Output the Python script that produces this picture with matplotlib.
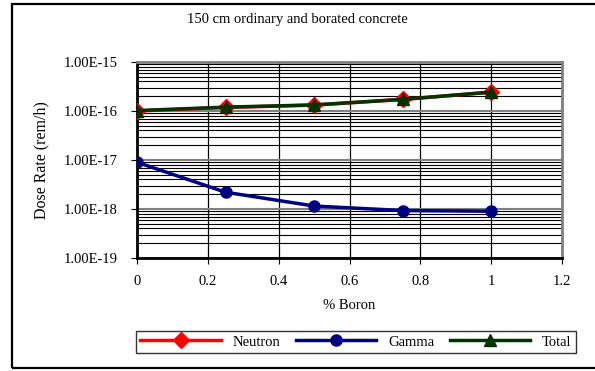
import numpy as np
import matplotlib.pyplot as plt
from matplotlib.patches import Rectangle
from matplotlib.ticker import LogLocator, FixedLocator, NullFormatter

boron = [0, 0.25, 0.5, 0.75, 1.0]
neutron = [1.0e-16, 1.18e-16, 1.32e-16, 1.72e-16, 2.42e-16]
gamma = [9.0e-18, 2.2e-18, 1.15e-18, 0.93e-18, 0.9e-18]
total = [1.02e-16, 1.2e-16, 1.33e-16, 1.73e-16, 2.43e-16]
ytick_labels = ["1.00E-19", "1.00E-18", "1.00E-17", "1.00E-16", "1.00E-15"]
xtick_labels = ["0", "0.2", "0.4", "0.6", "0.8", "1", "1.2"]

plt.rcParams['font.family'] = ['Liberation Serif', 'DejaVu Serif']

fig = plt.figure(figsize=(5.95, 3.71), dpi=100)
ax = fig.add_axes([137/595, 1-258/371, 425/595, 196/371])

# outer frame
fig.patches.append(Rectangle((12/595, 3/371), 0.99, 364/371, transform=fig.transFigure,
                             fill=False, edgecolor='black', lw=1.6, clip_on=False))

ax.set_yscale('log')
ax.set_ylim(1e-19, 1e-15)
ax.set_xlim(0, 1.2)

ax.plot(boron, neutron, color='#ff0000', lw=2.5, marker='D', ms=8, zorder=3, label='Neutron')
ax.plot(boron, gamma, color='#000080', lw=2.5, marker='o', ms=8, zorder=3, label='Gamma')
ax.plot(boron, total, color='#003300', lw=2.5, marker='^', ms=8, zorder=4, label='Total')

ax.yaxis.set_major_locator(FixedLocator([1e-19, 1e-18, 1e-17, 1e-16, 1e-15]))
ax.set_yticklabels(ytick_labels)
ax.yaxis.set_minor_locator(LogLocator(base=10, subs=np.arange(2, 10)))
ax.yaxis.set_minor_formatter(NullFormatter())
ax.set_xticks(np.arange(0, 1.21, 0.2))
ax.set_xticklabels(xtick_labels)

ax.grid(True, which='major', axis='y', color='#808080', lw=1.5)
ax.grid(True, which='minor', axis='y', color='black', lw=0.8)
ax.grid(True, which='major', axis='x', color='black', lw=0.9)
ax.set_axisbelow(True)
ax.tick_params(axis='y', which='minor', length=0)
ax.tick_params(axis='both', which='major', length=4, labelsize=10.5, pad=8)
ax.tick_params(axis='y', pad=10)

for s in ax.spines.values():
    s.set_color('#808080')
    s.set_linewidth(2)
ax.spines['left'].set_color('black')
ax.spines['bottom'].set_color('black')

ax.set_ylabel('Dose Rate (rem/h)', fontsize=11.5, labelpad=10)
ax.set_xlabel('% Boron', fontsize=10.5, labelpad=8)
fig.text(297/595, 1-20/371, '150 cm ordinary and borated concrete', ha='center', va='center', fontsize=10.5)

leg = fig.legend(loc='center', bbox_to_anchor=(356/595, 1-342/371), ncol=3, frameon=True,
                 fancybox=False, edgecolor='black', fontsize=10.5, handlelength=5.5,
                 columnspacing=1.1, borderpad=0.3)
leg.get_frame().set_linewidth(1)

fig.savefig('out.png', dpi=100)
